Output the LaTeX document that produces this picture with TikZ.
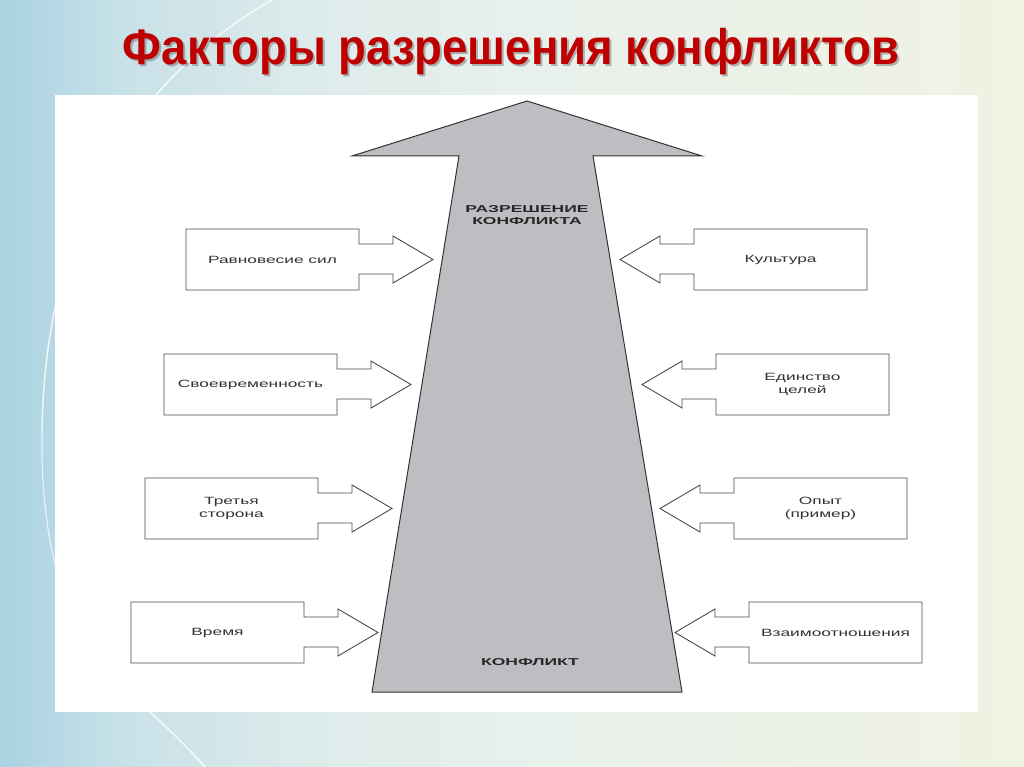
\documentclass[tikz,border=0pt]{standalone}
\usepackage{fontspec}
\setmainfont{Liberation Sans}
\newfontfamily\diagfont[FakeStretch=1.65]{Liberation Sans}
\newfontfamily\diagbfont[FakeStretch=1.75]{Liberation Sans}
\newfontfamily\titlefont[FakeStretch=0.91]{Liberation Sans}
\definecolor{titlered}{HTML}{BE0000}
\definecolor{arrowgray}{HTML}{BDBEC2}
\definecolor{linegray}{HTML}{4A4A4A}
\definecolor{textgray}{HTML}{333333}
\definecolor{bgA}{HTML}{A9D2E2}
\definecolor{bgB}{HTML}{C8E1E8}
\definecolor{bgC}{HTML}{DDEBEB}
\definecolor{bgD}{HTML}{E9F1EC}
\definecolor{bgE}{HTML}{F0F2E2}
\pgfdeclarehorizontalshading{slidebg}{100bp}{%
  color(0bp)=(bgA); color(25bp)=(bgA); color(31bp)=(bgB); color(40bp)=(bgC);
  color(52bp)=(bgD); color(75bp)=(bgE); color(100bp)=(bgE)}
\tikzset{
  box/.style={minimum width=173pt, minimum height=61pt, inner sep=0pt, outer sep=0pt,
    align=center, text=textgray, font={\diagfont\fontsize{10.5}{12.5}\selectfont}},
  blk/.style={draw=linegray, line width=0.9pt, fill=white, line join=miter},
  bigarrow/.style={draw=black!80, line width=1pt, fill=arrowgray},
  bigtext/.style={align=center, text=black!85, font={\diagbfont\bfseries\fontsize{10}{12.5}\selectfont}},
  titletext/.style={anchor=base, font={\titlefont\bfseries\fontsize{50}{52}\selectfont}},
}
\newcommand\lblock[4]{%
  \node[box] (#1) at (#2+86.5,#3+30.5) {#4};
  \draw[blk] (#1.north west) -- (#1.north east) -- ++(0,15) -- ++(34,0) -- ++(0,-8)
    -- ++(40,23.5) -- ++(-40,23.5) -- ++(0,-9) -- ++(-34,0) -- (#1.south east)
    -- (#1.south west) -- cycle;
  \node[box] at (#1) {#4};}
\newcommand\rblock[4]{%
  \node[box] (#1) at (#2+86.5,#3+30.5) {#4};
  \draw[blk] (#1.north east) -- (#1.north west) -- ++(0,15) -- ++(-34,0) -- ++(0,-8)
    -- ++(-40,23.5) -- ++(40,23.5) -- ++(0,-9) -- ++(34,0) -- (#1.south west)
    -- (#1.south east) -- cycle;
  \node[box] at (#1) {#4};}
\begin{document}
\begin{tikzpicture}[x=1pt,y=-1pt]
\useasboundingbox (0,0) rectangle (1024,767);
% slide background
\shade[shading=slidebg] (0,0) rectangle (1024,767);
\draw[white, line width=1.5pt, opacity=0.8] (272,0) .. controls (130,80) and (45,230) .. (42,430);
\draw[white, line width=1.2pt, opacity=0.7] (42,430) .. controls (40,560) and (70,650) .. (150,712);
\draw[white, line width=1.5pt, opacity=0.8] (150,712) .. controls (175,735) and (190,750) .. (205,767);
% title
\node[titletext, text=black!55, opacity=0.5] at (513,67) {Факторы разрешения конфликтов};
\node[titletext, text=titlered] (title) at (511,65) {Факторы разрешения конфликтов};
% white panel
\fill[white] (55,95) rectangle (978,712);
% big arrow
\draw[bigarrow] (352,156) -- (527,101) -- (702,156) -- (593,156) -- (682,692)
  -- (372,692) -- (459,156) -- cycle;
\node[bigtext] (goal) at (527,215) {РАЗРЕШЕНИЕ\\КОНФЛИКТА};
\node[bigtext] (start) at (530,662) {КОНФЛИКТ};
% left factors
\lblock{l1}{186}{229}{Равновесие сил}
\lblock{l2}{164}{354}{Своевременность}
\lblock{l3}{145}{478}{Третья\\сторона}
\lblock{l4}{131}{602}{Время}
% right factors
\rblock{r1}{694}{229}{Культура}
\rblock{r2}{716}{354}{Единство\\целей}
\rblock{r3}{734}{478}{Опыт\\(пример)}
\rblock{r4}{749}{602}{Взаимоотношения}
\end{tikzpicture}
\end{document}
